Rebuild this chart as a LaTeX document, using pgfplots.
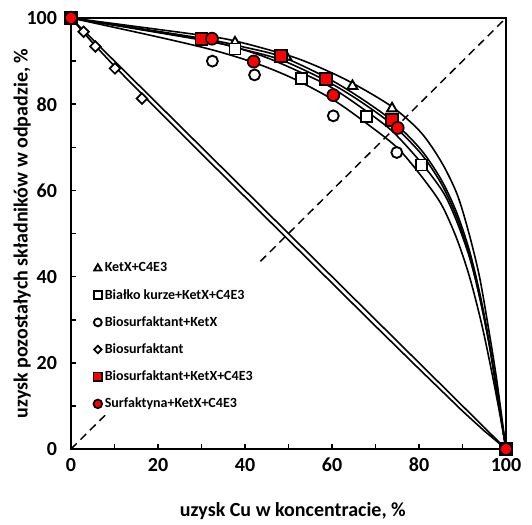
\documentclass[border=0pt]{standalone}
\usepackage{fontspec}
\setmainfont{Carlito}
\usepackage{pgfplots}
\pgfplotsset{compat=1.18}
\definecolor{markred}{HTML}{FF0000}

\begin{document}
\begin{tikzpicture}
\begin{axis}[
  scale only axis,
  width=326.25pt, height=323.25pt,
  xmin=0, xmax=100, ymin=0, ymax=100,
  clip=false,
  axis line style={line width=1.5pt},
  xtick={0,20,...,100}, ytick={0,20,...,100},
  minor xtick={10,30,...,90}, minor ytick={10,30,...,90},
  tick align=inside, xtick pos=bottom, ytick pos=left,
  major tick length=4pt, minor tick length=4pt,
  every tick/.style={line width=1.2pt, black},
  ticklabel style={font=\bfseries\fontsize{15}{17}\selectfont},
  /pgf/number format/assume math mode=true,
  yticklabel style={xshift=-7pt},
  xticklabel style={yshift=-3.3pt},
  xlabel={uzysk Cu w koncentracie, \%},
  ylabel={uzysk pozostałych składników w odpadzie, \%},
  label style={font=\bfseries\fontsize{15}{17}\selectfont},
  xlabel style={at={(axis description cs:0.51,-0.145)}, anchor=center},
  ylabel style={at={(axis description cs:-0.112,0.5)}, anchor=center},
  legend style={at={(axis cs:4.5,44.5)}, anchor=north west, draw=none, fill=white,
    font=\bfseries\fontsize{10.5}{12}\selectfont, row sep=7.5pt, inner sep=2pt,
    cells={anchor=west}},
  legend image code/.code={\draw[/tikz/every mark/.append style={scale=0.72}] plot coordinates {(0.12cm,0cm)};},
  curve/.style={black, line width=1.2pt, smooth, no marks, forget plot},
]
% invisible frame that fixes the page size
\path[draw=none] ([xshift=-53.25pt,yshift=-54pt]rel axis cs:0,0) rectangle ([xshift=19.5pt,yshift=13.5pt]rel axis cs:1,1);

% reference lines
\addplot[black, line width=1.1pt, dash pattern=on 6pt off 4pt, forget plot] coordinates {(0,0) (100,100)};
\addplot[black, line width=1.2pt, forget plot] coordinates {(0,100) (100,0)};

% fitted curves
\addplot[black, line width=1.2pt, forget plot] coordinates {(0,100) (5,94.2) (10,88.8) (20,78.6) (30,68.5) (40,58.5) (50,48.5) (60,38.5) (70,28.5) (80,18.6) (90,8.8) (95,4.2) (100,0)};
\addplot[curve] coordinates {(0,100) (20,95.6) (32.5,92.6) (42.5,89.5) (51,86) (60.3,81) (68,75.5) (74.9,70) (80,64) (85,57) (88.6,49) (91.6,40) (94.4,29) (96.7,18) (98.6,8) (100,0)};
\addplot[curve] coordinates {(0,100) (30,94.9) (37.7,93.2) (45,90.8) (53,87.3) (60,83.8) (68,78.3) (74,73.6) (80.6,66.3) (85.6,59.5) (88.6,53) (91.6,44.5) (94,35) (96.2,24) (98,12.5) (100,0)};
\addplot[curve] coordinates {(0,100) (30,95.3) (40,93.2) (48.5,91) (58.7,86.2) (66,81.8) (73.8,76.2) (80.4,69.5) (85.1,62.5) (88.6,55) (91.6,46) (94,36) (96.1,25) (98,13) (100,0)};
\addplot[curve] coordinates {(0,100) (30,95) (40,92.6) (48.5,90.2) (58.7,85.4) (66,81) (73.8,75.3) (80.4,68.6) (85.1,61.6) (88.6,54) (91.6,45) (94,35) (96.1,24.5) (98,12.8) (100,0)};
\addplot[curve] coordinates {(0,100) (30,96) (38,94.6) (50,91.3) (57,88.6) (64.5,85) (73.8,79.4) (80.4,73.5) (85.2,66.5) (88.8,59) (91.5,50) (93.9,40) (95.9,28.5) (97.8,16.5) (100,0)};

% measured points
\addplot[only marks, mark=triangle*, mark size=4.3pt, mark options={draw=black, line width=1.4pt, fill=white}] coordinates {(0,100) (37.7,94.3) (49.5,91.0) (64.7,84.2) (73.8,79.0) (100,0)};
\addlegendentry{KetX+C4E3}
\addplot[only marks, mark=square*, mark size=4.1pt, mark options={draw=black, line width=1.4pt, fill=white}] coordinates {(0,100) (37.7,92.8) (53,86.0) (68,77.1) (80.6,65.9) (100,0)};
\addlegendentry{Białko kurze+KetX+C4E3}
\addplot[only marks, mark=*, mark size=4.1pt, mark options={draw=black, line width=1.4pt, fill=white}] coordinates {(0,100) (32.5,90.0) (42.2,86.8) (60.3,77.3) (74.9,68.8) (100,0)};
\addlegendentry{Biosurfaktant+KetX}
\addplot[only marks, mark=square*, mark size=2.8pt, mark options={draw=black, line width=1.3pt, fill=white, rotate=45}] coordinates {(0,100) (2.9,96.8) (5.6,93.4) (10.1,88.3) (16.3,81.3) (100,0)};
\addlegendentry{Biosurfaktant}
\addplot[only marks, mark=square*, mark size=4.5pt, mark options={draw=black, line width=1.3pt, fill=markred}] coordinates {(0,100) (30,95.2) (48.3,91.2) (58.7,85.8) (73.8,76.4) (100,0)};
\addlegendentry{Biosurfaktant+KetX+C4E3}
\addplot[only marks, mark=*, mark size=4.5pt, mark options={draw=black, line width=1.3pt, fill=markred}] coordinates {(0,100) (32.4,95.2) (42,89.9) (60.3,82.1) (75.1,74.5) (100,0)};
\addlegendentry{Surfaktyna+KetX+C4E3}
\end{axis}
\end{tikzpicture}
\end{document}
